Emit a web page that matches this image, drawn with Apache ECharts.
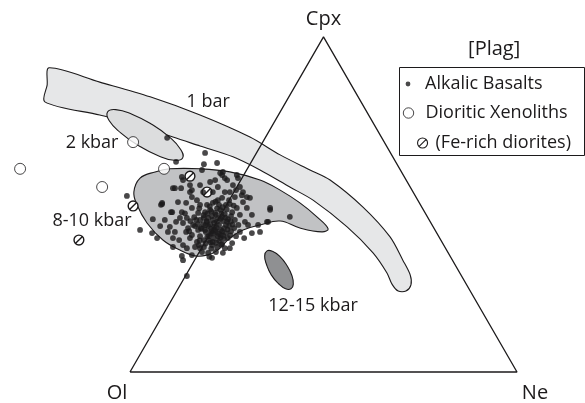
<!DOCTYPE html>
<html><head><meta charset="utf-8">
<script src="https://cdn.jsdelivr.net/npm/echarts@6/dist/echarts.min.js"></script>
<style>html,body{margin:0;padding:0;background:#fff}#c{width:585px;height:403px}</style>
</head><body><div id="c"></div>
<script>
// Diagram units: Ol = (0,0), Ne = (100,0), Cpx = (50,86.6); projected from [Plag]
const vertexNames = ['Ol', 'Cpx', 'Ne'];
const vertices = [[0, 0], [50, 86.6], [100, 0]];

const alkalicBasalts = [
  [9.6,60.5],[11.9,54.3],[19.4,56.6],[19.1,53.7],[22.5,54.0],[-0.8,45.5],[13.4,50.4],[13.7,49.6],[11.1,47.5],[13.2,47.5],
  [15.5,48.3],[16.0,47.0],[18.6,52.2],[18.1,48.3],[18.9,46.5],[20.7,49.1],[16.0,45.2],[23.8,50.9],[22.0,49.6],[24.5,50.1],
  [22.7,47.8],[26.6,48.3],[25.8,46.5],[28.4,47.8],[27.1,45.2],[28.9,45.7],[23.8,45.0],[24.0,51.7],[27.9,50.1],[2.6,36.7],
  [5.7,35.9],[8.0,43.2],[5.9,39.5],[10.6,41.3],[11.1,32.3],[13.4,30.0],[13.7,28.9],[14.7,24.8],[17.8,32.8],[20.2,30.8],
  [24.5,32.0],[35.4,38.8],[41.3,40.1],[33.6,36.2],[31.5,35.9],[28.4,36.2],[8.3,43.4],[12.4,43.9],[10.3,37.5],[7.0,34.6],
  [11.6,36.2],[11.1,34.6],[13.4,41.3],[14.7,39.8],[13.7,38.5],[16.0,42.4],[18.1,43.2],[15.0,37.2],[16.0,35.4],[13.7,32.8],
  [16.0,30.2],[18.1,32.0],[17.3,33.6],[29.2,43.9],[31.0,45.0],[30.2,42.4],[27.6,42.4],[28.4,40.6],[36.2,41.9],[26.4,33.3],
  [18.6,31.0],[27.6,50.9],[30.2,45.2],
  [11.6,47.5],[15.5,46.5],[8.3,43.7],[10.9,41.3],[23.3,51.4],[25.1,49.6],[29.2,46.5],[36.2,42.4],[35.7,38.8],
  [19.4,41.3],[20.7,41.9],[22.0,41.1],[23.3,41.9],[24.5,40.8],[20.2,39.8],[21.4,39.3],[22.7,39.8],[24.0,39.0],[25.3,39.5],
  [18.9,38.2],[20.2,37.7],[21.7,37.5],[23.0,38.0],[24.3,37.2],[25.6,37.7],[19.6,36.2],[20.9,35.7],[22.2,36.2],[23.5,35.4],
  [24.8,35.9],[26.1,36.4],[20.4,34.1],[21.7,34.6],[23.0,33.9],[24.3,34.4],[21.2,32.8],[22.5,32.3],[17.1,39.3],[17.6,36.7],
  [18.1,35.1],[19.1,34.1],[26.4,41.3],[27.1,39.3],[26.9,37.2],[25.3,34.6],[23.8,33.1],[19.9,43.2],[21.4,43.7],[23.0,43.2],
  [24.8,43.2],[25.8,43.4],[17.6,41.1],[16.8,37.7],[27.4,35.1],[19.1,39.8],[22.2,40.6],[23.5,36.7],[20.9,37.0],[25.1,38.8],
  [18.3,37.2],[15.5,34.6],[16.8,32.3],[19.1,32.3],[22.2,31.0],[14.5,36.2],[16.3,38.0],[25.6,44.4],[27.4,47.0],[21.4,46.5],
  [24.5,46.5],[22.7,44.4],[17.3,44.4],[14.5,43.7],[12.9,39.8],[11.9,38.8],[9.0,39.3],[7.8,37.7],[9.8,36.2],[12.7,34.1],
  [14.7,32.0],[29.7,38.8],[31.5,40.6],[33.1,38.0],[30.5,38.0],[29.5,34.6],[25.8,32.0],[21.2,29.5],
  [19.9,38.8],[21.2,40.3],[22.5,38.8],[23.8,40.1],[20.4,35.1],[22.0,36.7],[23.3,34.6],[19.4,36.7],[24.8,38.0],[21.4,33.6],
  [22.7,35.1],[20.7,38.2],[26.1,40.3],[18.1,39.3],
  [19.0,40.5],[20.0,40.9],[21.0,41.5],[22.5,42.3],[23.9,42.6],[25.0,42.0],[19.8,39.0],[21.8,38.5],[23.4,39.6],[24.7,39.9],
  [26.0,38.9],[18.5,37.0],[19.5,37.9],[21.0,36.4],[22.4,37.3],[23.8,36.4],[25.2,36.8],[20.0,35.0],[21.5,35.8],[22.9,35.7],
  [24.1,35.2],[19.5,33.2],[20.8,33.5],[22.3,33.4],[23.6,32.9],[21.0,31.9],[17.5,38.2],[18.0,34.0],[26.5,38.1],[25.9,35.3],
  [20.6,42.8],[22.1,44.0],[23.6,41.0],[16.6,40.0],[17.9,42.3],[15.6,39.0],[14.2,41.0],[15.3,36.4],[26.8,43.0],[28.0,38.0],
  [24.0,30.8],[20.5,29.8]
];
const dioriticXenoliths = [[-28.4,52.5],[0.8,59.4],[8.8,52.5],[-7.2,47.8]];
const feRichDiorites = [[15.5,50.6],[19.9,46.5],[0.8,42.9],[-13.2,34.1]];

// Experimental liquidus fields (outline vertices, diagram units)
const field1bar = [[-20.9,78.6],[-7.8,74.9],[5.2,71.1],[18.1,66.4],[31.0,60.7],[38.8,56.1],[46.5,52.2],[51.7,49.6],[60.2,42.6],
  [67.2,34.9],[70.5,28.9],[72.4,25.1],[72.6,22.5],[71.3,20.9],[69.3,20.9],[67.7,22.7],[66.4,25.6],[62.8,30.8],[56.1,37.5],
  [47.3,44.4],[41.3,47.8],[33.6,52.2],[26.6,55.6],[18.1,58.4],[11.1,60.7],[2.6,63.8],[-7.8,66.4],[-22.0,69.8],[-21.4,74.2]];
const field2kbar = [[13.6,55.3],[11.4,54.7],[7.3,55.9],[2.2,58.5],[-2.4,61.8],[-5.4,65.0],[-5.8,67.2],[-3.7,67.8],[0.5,66.6],
  [5.6,64.0],[10.2,60.7],[13.1,57.5]];
const field8to10kbar = [[2.6,50.1],[6.5,51.7],[10.3,52.5],[18.1,52.5],[25.8,51.7],[33.6,49.6],[38.8,47.0],[43.9,43.7],[48.3,40.1],
  [51.2,37.0],[49.6,36.2],[43.9,37.2],[38.8,39.0],[33.6,38.0],[29.2,36.7],[25.8,34.6],[22.7,31.5],[19.9,30.2],[16.8,30.0],
  [12.9,31.5],[8.5,34.1],[4.4,38.5],[1.8,43.2],[1.0,46.5]];
const field12to15kbar = [[41.6,21.5],[40.2,21.5],[38.4,22.8],[36.5,25.1],[35.3,27.7],[34.8,30.0],[35.4,31.3],[36.8,31.2],
  [38.7,29.9],[40.5,27.6],[41.8,25.0],[42.2,22.7]];

const fieldLabelNames = ['1 bar', '2 kbar', '8-10 kbar', '12-15 kbar', '[Plag]'];
const fieldLabelAt = [[20.2,69.9],[-9.8,59.1],[-9.8,39.1],[47.3,17.2],[94.1,83.4]];

const INK = '#1c1a1b';
const FONT = 'Open Sans';

function fieldSeries(name, pts, fill, smooth) {
  return {
    type: 'custom', name: name, silent: true, data: pts,
    renderItem: function (params, api) {
      if (params.dataIndex !== 0) return null;
      return {
        type: 'polygon',
        shape: { points: pts.map(function (p) { return api.coord(p); }), smooth: smooth },
        style: { fill: fill, stroke: INK, lineWidth: 1.1 }
      };
    }
  };
}

function textSeries(name, pts, names, offsets, sizes) {
  return {
    type: 'custom', name: name, silent: true, data: pts,
    renderItem: function (params, api) {
      const i = params.dataIndex;
      const c = api.coord([api.value(0), api.value(1)]);
      const off = offsets ? offsets[i] : [0, 0];
      return {
        type: 'text', x: c[0] + off[0], y: c[1] + off[1],
        style: { text: names[i], fill: INK, fontFamily: FONT, fontSize: sizes[i], align: 'center', verticalAlign: 'middle' }
      };
    }
  };
}

const chart = echarts.init(document.getElementById('c'), null, { renderer: 'canvas' });
// legend icons: stray move-to points set the icon box so the glyph keeps its aspect
const dotIcon = 'path://M-12 -2.5 M12 2.5 M-2.4 0 A2.4 2.4 0 1 1 2.4 0 A2.4 2.4 0 1 1 -2.4 0 Z';
const ringIcon = 'path://M-12 -5.5 M12 5.5 M-5.2 0 A5.2 5.2 0 1 1 5.2 0 A5.2 5.2 0 1 1 -5.2 0 Z';
const hatchIcon = 'path://M-3 0 M13 10 M5 0 A5 5 0 1 1 5 10 A5 5 0 1 1 5 0 Z M1.6 8.4 L8.4 1.6';
const legendText = { fontFamily: FONT, fontSize: 18, color: INK };

chart.setOption({
  animation: false,
  backgroundColor: '#fff',
  grid: { left: 0, right: 0, top: 0, bottom: 0 },
  xAxis: { type: 'value', min: -33.59, max: 117.57, show: false },
  yAxis: { type: 'value', min: -8.01, max: 96.12, show: false },
  graphic: [{
    type: 'rect', silent: true, z: 0,
    shape: { x: 399.5, y: 67.5, width: 185, height: 88 },
    style: { fill: 'none', stroke: INK, lineWidth: 1 }
  }],
  legend: [
    { data: [{ name: 'Alkalic Basalts', icon: dotIcon, itemStyle: { color: INK, borderWidth: 0 } }],
      left: 396, top: 75, itemWidth: 24, itemHeight: 5, padding: 0, selectedMode: false, textStyle: legendText },
    { data: [{ name: 'Dioritic Xenoliths', icon: ringIcon, itemStyle: { color: '#fff', borderColor: INK, borderWidth: 1 } }],
      left: 396, top: 104, itemWidth: 24, itemHeight: 11, padding: 0, selectedMode: false, textStyle: legendText },
    { data: [{ name: '(Fe-rich diorites)', icon: hatchIcon, itemStyle: { color: '#fff', borderColor: INK, borderWidth: 1.1 } }],
      left: 414, top: 134, itemWidth: 16, itemHeight: 10, padding: 0, selectedMode: false, textStyle: legendText }
  ],
  series: [
    fieldSeries('1 bar field', field1bar, '#e6e7e8', 0.3),
    fieldSeries('2 kbar field', field2kbar, '#dcddde', 0.5),
    fieldSeries('8-10 kbar field', field8to10kbar, '#c1c2c4', 0.4),
    fieldSeries('12-15 kbar field', field12to15kbar, '#8f9092', 0.5),
    {
      type: 'line', name: 'triangle', silent: true, symbol: 'none',
      data: vertices.concat([vertices[0]]),
      lineStyle: { color: INK, width: 1.3 }
    },
    {
      type: 'scatter', name: 'Alkalic Basalts', data: alkalicBasalts,
      symbol: 'circle', symbolSize: 5.8, itemStyle: { color: INK }
    },
    {
      type: 'scatter', name: 'Dioritic Xenoliths', data: dioriticXenoliths,
      symbol: 'circle', symbolSize: 11, itemStyle: { color: '#fff', borderColor: INK, borderWidth: 1 }
    },
    {
      type: 'custom', name: '(Fe-rich diorites)', data: feRichDiorites,
      itemStyle: { color: '#fff', borderColor: INK },
      renderItem: function (params, api) {
        const c = api.coord([api.value(0), api.value(1)]);
        const r = 4.9, d = r * 0.72;
        return {
          type: 'group', children: [
            { type: 'circle', shape: { cx: c[0], cy: c[1], r: r }, style: { fill: '#fff', stroke: INK, lineWidth: 1.4 } },
            { type: 'line', shape: { x1: c[0] - d, y1: c[1] + d, x2: c[0] + d, y2: c[1] - d }, style: { stroke: INK, lineWidth: 1.4 } }
          ]
        };
      }
    },
    textSeries('vertex labels', vertices, vertexNames, [[-13, 21], [0, -18], [18, 21]], [20, 20, 20]),
    textSeries('field labels', fieldLabelAt, fieldLabelNames, null, [18, 18, 18, 18, 20])
  ]
});
</script>
</body></html>
